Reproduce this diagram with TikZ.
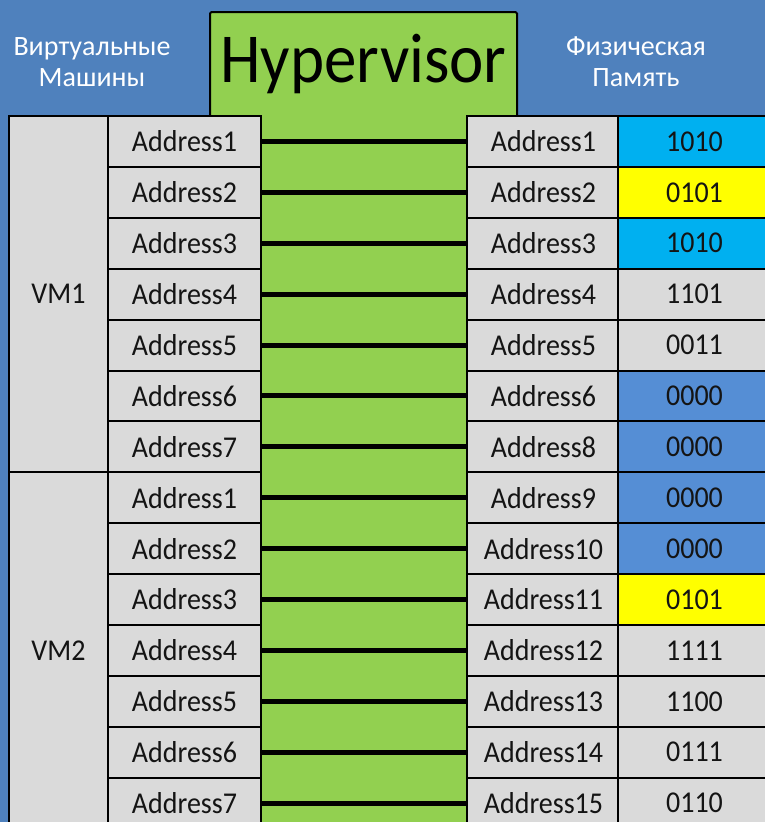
\documentclass[tikz,border=0pt]{standalone}
\usepackage{fontspec}
\setmainfont{Carlito}
\definecolor{bgblue}{HTML}{4F81BD}
\definecolor{hvgreen}{HTML}{92D050}
\definecolor{cellgray}{HTML}{DADADA}
\definecolor{cellcyan}{HTML}{00B0F0}
\definecolor{cellyellow}{HTML}{FFFF00}
\definecolor{cellblue}{HTML}{558ED5}
\definecolor{inkdark}{HTML}{141414}
\newcommand{\tall}[1]{\scalebox{1}[1.08]{#1}}
\tikzset{
  cell/.style={draw=black, line width=2pt, fill=cellgray, rectangle, inner sep=0pt,
    minimum width=153pt, minimum height=50.9pt, anchor=north west,
    text=inkdark, font=\fontsize{28}{30}\selectfont},
  vmcell/.style={cell, minimum width=99pt, minimum height=356.3pt},
  conn/.style={draw=black, line width=5pt},
  header/.style={text=white, align=center, font=\fontsize{28}{31}\selectfont},
  hvbox/.style={draw=black, line width=2pt, fill=hvgreen, rounded corners=1.5pt}
}
\begin{document}
\begin{tikzpicture}[x=1pt,y=-1pt]
\useasboundingbox (0,0) rectangle (765,822);
\clip (0,0) rectangle (765,822);
\fill[bgblue] (0,0) rectangle (765,822);

% hypervisor column
\draw[hvbox] (210,12) rectangle (517,860);
\node[font=\fontsize{65}{70}\selectfont, text=black] (hv) at (363.5,64) {\tall{Hypervisor}};

% column headers
\node[header] (vmhead) at (92,62) {Виртуальные\\Машины};
\node[header] (memhead) at (636,62) {Физическая\\Память};

% virtual machines
\node[vmcell] (vm1) at (8,115) {\tall{VM1}};
\node[vmcell] (vm2) at (8,471.3) {\tall{VM2}};

% guest addresses
\foreach \i/\a in {1/1,2/2,3/3,4/4,5/5,6/6,7/7,8/1,9/2,10/3,11/4,12/5,13/6,14/7}{
  \node[cell] (l\i) at (107,{115+(\i-1)*50.9}) {\tall{Address\a}};
}

% physical addresses and their contents
\foreach \i/\a/\v/\c in {1/1/1010/cellcyan, 2/2/0101/cellyellow, 3/3/1010/cellcyan,
    4/4/1101/cellgray, 5/5/0011/cellgray, 6/6/0000/cellblue, 7/8/0000/cellblue,
    8/9/0000/cellblue, 9/10/0000/cellblue, 10/11/0101/cellyellow,
    11/12/1111/cellgray, 12/13/1100/cellgray, 13/14/0111/cellgray, 14/15/0110/cellgray}{
  \node[cell] (r\i) at (466,{115+(\i-1)*50.9}) {\tall{Address\a}};
  \node[cell, fill=\c] (v\i) at (617,{115+(\i-1)*50.9}) {\tall{\v}};
}

% hypervisor mappings
\foreach \i in {1,...,14}{
  \draw[conn] (l\i.east) -- (r\i.west);
}
\end{tikzpicture}
\end{document}
